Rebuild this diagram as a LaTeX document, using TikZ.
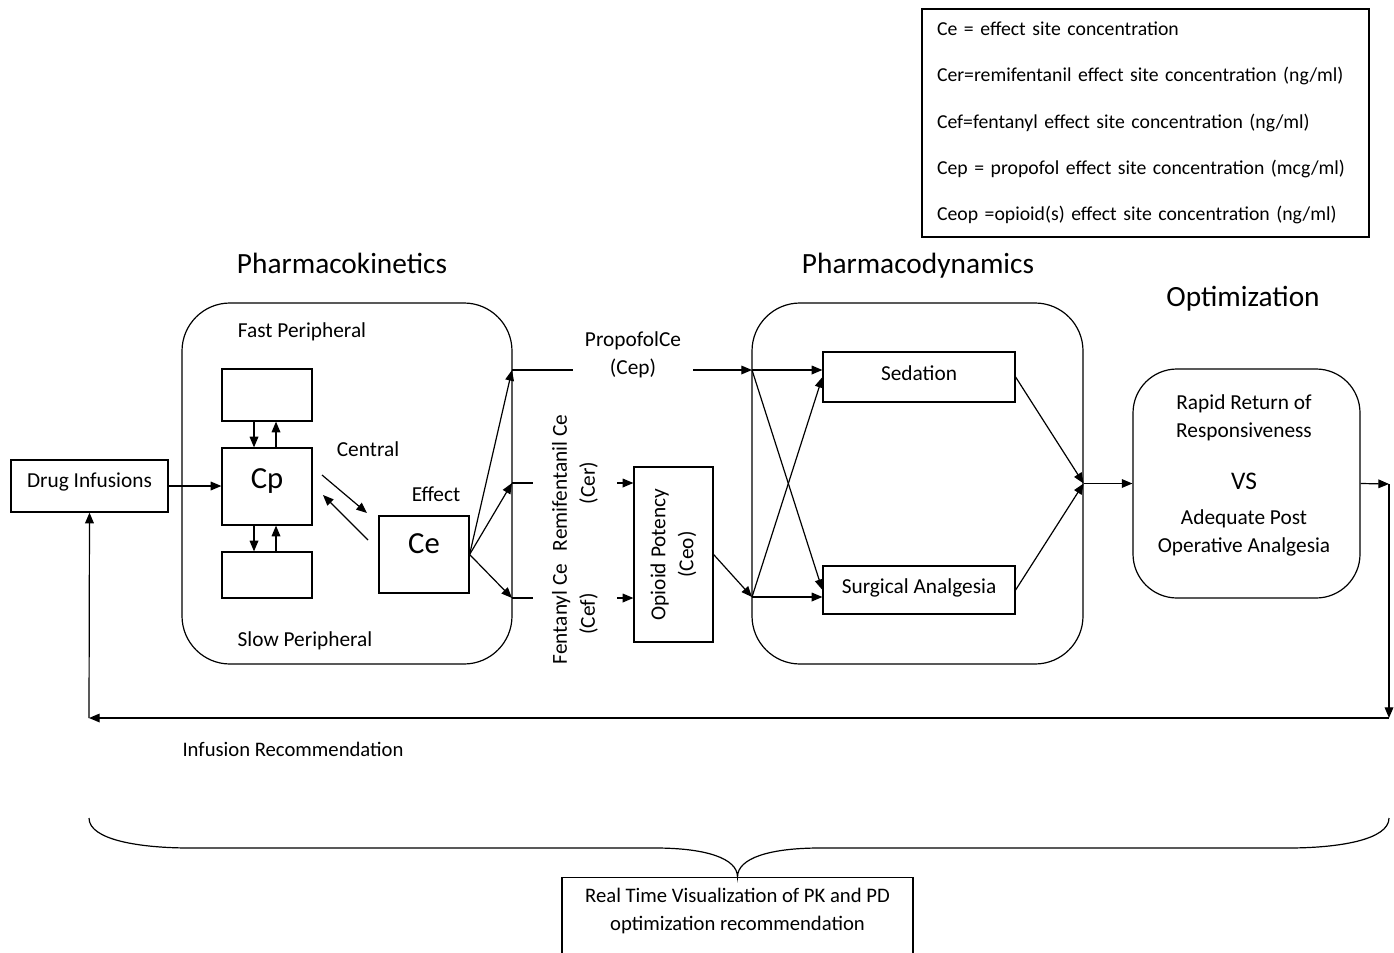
\documentclass[tikz,border=0pt]{standalone}
\usepackage{fontspec}
\setmainfont{Carlito}
\usetikzlibrary{arrows.meta}

\tikzset{
  box/.style={draw, line width=0.9pt, inner sep=0pt},
  rbox/.style={draw, line width=0.9pt, inner sep=0pt, rounded corners=36pt},
  lbl/.style={inner sep=0.75pt, font=\fontsize{16}{21}\selectfont},
  hd/.style={inner sep=0.75pt, font=\fontsize{22}{26}\selectfont},
  ln/.style={line width=0.9pt},
  arr/.style={line width=0.9pt, -{Triangle[length=8pt,width=6.5pt]}},
}

\begin{document}
\begin{tikzpicture}[x=0.75pt,y=0.75pt,yscale=-1]
\useasboundingbox (0,0) rectangle (1394,952);
\clip (0,0) rectangle (1394,952);

% Legend
\node [box, align=left, text width=312.75pt, minimum height=171pt, inner xsep=11.25pt, font=\fontsize{14.8}{34.7}\selectfont] (legend) at (1145.5,123)
  {Ce = effect site concentration\\Cer=remifentanil effect site concentration (ng/ml)\\Cef=fentanyl effect site concentration (ng/ml)\\Cep = propofol effect site concentration (mcg/ml)\\Ceop =opioid(s) effect site concentration (ng/ml)};

% Headings
\node [hd] (pkhd) at (342,263) {Pharmacokinetics};
\node [hd] (pdhd) at (918,266) {Pharmacodynamics};
\node [hd] (opthd) at (1243,299) {Optimization};

% Rounded Rects
\node [rbox, minimum width=247.5pt, minimum height=270.75pt] (pk) at (347,483.5) {};
\node [rbox, minimum width=248.25pt, minimum height=270.75pt] (pd) at (917.5,483.5) {};
\node [rbox, rounded corners=33pt, minimum width=170.25pt, minimum height=171.75pt] (opt) at (1246.5,483.5) {};

% Boxes
\node [box, lbl, text depth=9.3pt, minimum width=117.75pt, minimum height=39pt] (drug) at (89.5,486) {Drug Infusions};
\node [box, minimum width=67.5pt, minimum height=39pt] (fast) at (267,395) {};
\node [box, text depth=12.3pt, minimum width=67.5pt, minimum height=57.75pt, font=\fontsize{23}{27}\selectfont] (cp) at (267,486.5) {Cp};
\node [box, minimum width=67.5pt, minimum height=34.5pt] (slow) at (267,575) {};
\node [box, text depth=16.5pt, minimum width=67.5pt, minimum height=57.75pt, font=\fontsize{23}{27}\selectfont] (ce) at (424,554.5) {Ce};
\node [box, lbl, rotate=90, align=center, minimum width=131.25pt, minimum height=59.25pt] (opioid) at (673.5,554.5) {Opioid Potency\\(Ceo)};
\node [box, lbl, text depth=6pt, minimum width=144pt, minimum height=37.5pt] (sed) at (919,377) {Sedation};
\node [box, lbl, text depth=6.3pt, minimum width=144pt, minimum height=36pt] (surg) at (919,590) {Surgical Analgesia};
\node [box, minimum width=263.25pt, minimum height=75pt, anchor=north] (rtv) at (737.5,877) {};

% Text Node
\node [lbl] (fastlbl) at (302,332) {Fast Peripheral};
\node [lbl] (slowlbl) at (305,641) {Slow Peripheral};
\node [lbl] (central) at (368,449) {Central};
\node [lbl] (effect) at (436,494) {Effect};
\node [lbl, align=center, minimum width=90pt] (prop) at (633,355) {PropofolCe\\(Cep)};
\node [lbl, rotate=90, align=center] (remi) at (575,483) {Remifentanil Ce\\(Cer)};
\node [lbl, rotate=90, align=center] (fent) at (575,614) {Fentanyl Ce\\(Cef)};
\node [lbl] (rrr) at (1244,404) {Rapid Return of};
\node [lbl] (resp) at (1244,432) {Responsiveness};
\node [inner sep=0.75pt, font=\fontsize{19}{23}\selectfont] (vs) at (1244,481) {VS};
\node [lbl] (adq) at (1244,519) {Adequate Post};
\node [lbl] (opa) at (1244,547) {Operative Analgesia};
\node [lbl, font=\fontsize{15.5}{21}\selectfont] (infrec) at (293,749) {Infusion Recommendation};
\node [lbl, align=center, font=\fontsize{15.5}{21}\selectfont] (rtvtxt) at (737.5,911) {Real Time Visualization of PK and PD\\optimization recommendation};

% Coordinates
\coordinate (pkt) at (512,370);
\coordinate (pkm) at (512,483);
\coordinate (pkb) at (512,598);
\coordinate (rl) at (533,483);
\coordinate (rr) at (617,483);
\coordinate (fl) at (533,598);
\coordinate (fr) at (617,598);
\coordinate (pdt) at (752,370);
\coordinate (pdb) at (752,597);
\coordinate (k1a) at (322,475);
\coordinate (k1b) at (367,513);
\coordinate (k2a) at (368,540);
\coordinate (k2b) at (323,495);
\coordinate (c1) at (1389,484);
\coordinate (c2) at (1389,718);
\coordinate (c3) at (89,718);
\coordinate (bl) at (89,818);
\coordinate (br) at (1389,818);

%Straight Lines
\draw [arr] (drug.east) -- (cp.west |- drug.east);
\draw [arr] ([xshift=-9.75pt]fast.south) -- ([xshift=-9.75pt]cp.north);
\draw [arr] ([xshift=6.75pt]cp.north) -- ([xshift=6.75pt]fast.south);
\draw [arr] ([xshift=-9.75pt]cp.south) -- ([xshift=-9.75pt]slow.north);
\draw [arr] ([xshift=6.75pt]slow.north) -- ([xshift=6.75pt]cp.south);
\draw [arr] (k1a) -- (k1b);
\draw [arr] (k2a) -- (k2b);

\draw [arr] (ce.east) -- (pkt);
\draw [arr] (ce.east) -- (pkm);
\draw [arr] (ce.east) -- (pkb);

\draw [ln] (pkt) -- (pkt -| prop.west);
\draw [arr] (pkt -| prop.east) -- (pdt);
\draw [ln] (pkm) -- (rl);
\draw [arr] (rr) -- (opioid.north |- rr);
\draw [ln] (pkb) -- (fl);
\draw [arr] (fr) -- (opioid.north |- fr);
\draw [arr] (opioid.south) -- (pdb);

\draw [arr] (pdt) -- (sed.west |- pdt);
\draw [arr] (pdt) -- (surg.west);
\draw [arr] (pdb) -- (sed.west);
\draw [arr] (pdb) -- (surg.west |- pdb);
\draw [arr] (sed.east) -- (pd.east);
\draw [arr] (surg.east) -- (pd.east);
\draw [arr] (pd.east) -- (opt.west);

\draw [arr] (opt.east) -- (c1);
\draw [arr] (c1) -- (c2);
\draw [arr] (c2) -- (c3);
\draw [arr] (c3) -- (drug.south);

%Curve Lines
\draw [ln] (bl) .. controls (89,840) and (140,848) .. (190,848) -- (655,848) .. controls (705,848) and (737.5,858) .. (rtv.north) .. controls (737.5,858) and (770,848) .. (820,848) -- (1288,848) .. controls (1338,848) and (1389,840) .. (br);

\end{tikzpicture}
\end{document}
